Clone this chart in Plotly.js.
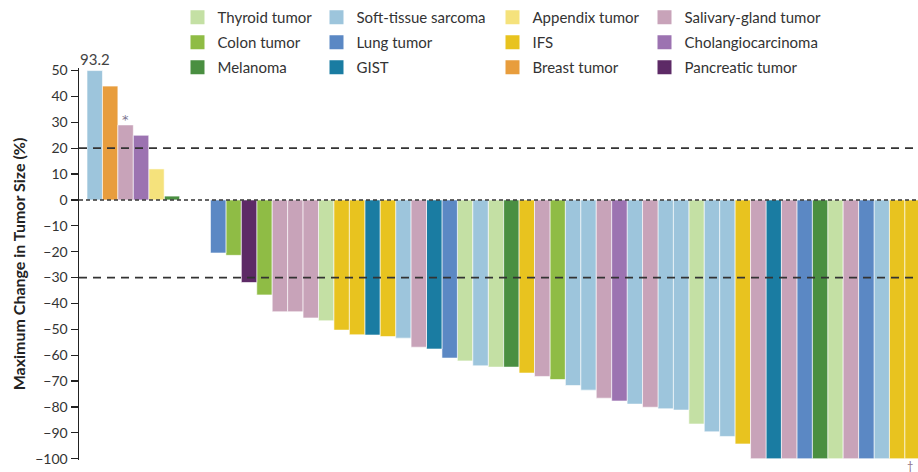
<!DOCTYPE html>
<html>
<head>
<meta charset="utf-8">
<script src="https://cdn.plot.ly/plotly-3.0.1.min.js"></script>
<style>
  html, body { margin: 0; padding: 0; background: #fff; }
  #chart { width: 918px; height: 472px; }
</style>
</head>
<body>
<div id="chart"></div>
<script>
// Tumor types (legend order by column) and colours
const tumorTypes = [
  'Thyroid tumor', 'Colon tumor', 'Melanoma',
  'Soft-tissue sarcoma', 'Lung tumor', 'GIST',
  'Appendix tumor', 'IFS', 'Breast tumor',
  'Salivary-gland tumor', 'Cholangiocarcinoma', 'Pancreatic tumor'
];
const tumorColors = [
  '#c4e0a4', '#8fbc45', '#4a8f41',
  '#9dc5dc', '#5b88c4', '#1a7ca2',
  '#f5e27c', '#e8c31f', '#e89d3d',
  '#c8a3b9', '#9c73b1', '#5d2a66'
];
const legendColumn = [
  'legend', 'legend', 'legend',
  'legend2', 'legend2', 'legend2',
  'legend3', 'legend3', 'legend3',
  'legend4', 'legend4', 'legend4'
];

// Per-patient maximum change in tumour size (%), in waterfall order
const changeValues = [
  93.2, 44, 29, 25, 12, 1.5, 0, 0,
  -20.5, -21.4, -31.9, -36.7, -43.2, -43.2, -45.6, -46.7,
  -50.3, -52.1, -52.2, -52.8, -53.4, -56.9, -57.6, -61.1,
  -62.2, -64.1, -64.6, -64.6, -66.9, -68.2, -69.4, -71.7,
  -73.5, -76.6, -77.7, -78.9, -80.1, -80.7, -81.2, -86.6,
  -89.6, -91.4, -94.3, -100, -100, -100, -100, -100,
  -100, -100, -100, -100, -100, -100
];
const patientTypes = [
  'Soft-tissue sarcoma', 'Breast tumor', 'Salivary-gland tumor', 'Cholangiocarcinoma',
  'Appendix tumor', 'Melanoma', 'Thyroid tumor', 'Thyroid tumor',
  'Lung tumor', 'Colon tumor', 'Pancreatic tumor', 'Colon tumor',
  'Salivary-gland tumor', 'Salivary-gland tumor', 'Salivary-gland tumor', 'Thyroid tumor',
  'IFS', 'IFS', 'GIST', 'IFS', 'Soft-tissue sarcoma', 'Salivary-gland tumor', 'GIST', 'Lung tumor',
  'Thyroid tumor', 'Soft-tissue sarcoma', 'Thyroid tumor', 'Melanoma', 'IFS',
  'Salivary-gland tumor', 'Colon tumor', 'Soft-tissue sarcoma',
  'Soft-tissue sarcoma', 'Salivary-gland tumor', 'Cholangiocarcinoma', 'Soft-tissue sarcoma',
  'Salivary-gland tumor', 'Soft-tissue sarcoma', 'Soft-tissue sarcoma', 'Thyroid tumor',
  'Soft-tissue sarcoma', 'Soft-tissue sarcoma', 'IFS', 'Salivary-gland tumor',
  'GIST', 'Salivary-gland tumor', 'Lung tumor', 'Melanoma',
  'Thyroid tumor', 'Salivary-gland tumor', 'Lung tumor', 'Soft-tissue sarcoma',
  'IFS', 'IFS'
];
const yTickValues = [-100, -90, -80, -70, -60, -50, -40, -30, -20, -10, 0, 10, 20, 30, 40, 50];
const thresholdLines = [20, -30];
const axisTop = 50;

const FONT = 'Lato, "Open Sans", sans-serif';
const traces = [];

// Data bars, one trace per tumour type
tumorTypes.forEach((t, k) => {
  const xs = [], ys = [];
  patientTypes.forEach((p, i) => {
    if (p === t) { xs.push(i); ys.push(Math.min(changeValues[i], axisTop)); }
  });
  traces.push({
    type: 'bar', x: xs, y: ys, name: t, showlegend: false,
    marker: { color: tumorColors[k], line: { color: 'rgba(255,255,255,0.75)', width: 0.8 } },
    width: 1, hoverinfo: 'skip'
  });
});
// Legend entries
tumorTypes.forEach((t, k) => {
  traces.push({
    type: 'bar', x: [null], y: [null], name: t, legend: legendColumn[k],
    legendgroup: t,
    marker: { color: tumorColors[k], line: { color: tumorColors[k], width: 2 } },
    hoverinfo: 'skip'
  });
});

const shapes = [
  { type: 'line', xref: 'paper', yref: 'y', x0: 0, x1: 1, y0: 0, y1: 0,
    line: { color: '#333', width: 1.5, dash: '4px,3px' }, layer: 'above' }
];
thresholdLines.forEach(v => shapes.push({
  type: 'line', xref: 'paper', yref: 'y', x0: 0, x1: 1, y0: v, y1: v,
  line: { color: '#333', width: 1.8, dash: '8px,6px' }, layer: 'above'
}));

const PLOT_L = 79, PLOT_W = 839, PLOT_B = 460, PLOT_H = 392;
const px2x = p => (p - PLOT_L) / PLOT_W;
const py2y = p => (PLOT_B - p) / PLOT_H;

const legendBase = {
  xref: 'paper', yref: 'paper', yanchor: 'top', xanchor: 'left',
  orientation: 'v', bgcolor: 'rgba(0,0,0,0)', borderwidth: 0,
  font: { family: FONT, size: 15, color: '#333' }, tracegroupgap: 2.5,
  y: py2y(1)
};

const layout = {
  width: 918, height: 472,
  margin: { l: 79, r: 0, t: 68, b: 12 },
  paper_bgcolor: '#fff', plot_bgcolor: '#fff',
  barmode: 'overlay', bargap: 0,
  font: { family: FONT, color: '#333' },
  xaxis: {
    range: [-1.02, 53.35], showticklabels: false, ticks: '', showgrid: false,
    zeroline: false, showline: false, fixedrange: true
  },
  yaxis: {
    range: [-100.5, 51], tickvals: yTickValues, ticks: 'outside', ticklen: 7,
    tickwidth: 1.2, tickcolor: '#222', showline: true, linecolor: '#222', linewidth: 1.5,
    showgrid: false, zeroline: false, tickfont: { family: FONT, size: 14, color: '#333' },
    title: { text: '<b>Maximum Change in Tumor Size (%)</b>', standoff: 5,
      font: { family: FONT, size: 16, color: '#222' } },
    fixedrange: true
  },
  legend: Object.assign({}, legendBase, { x: px2x(177.5) }),
  legend2: Object.assign({}, legendBase, { x: px2x(316.5) }),
  legend3: Object.assign({}, legendBase, { x: px2x(492.5) }),
  legend4: Object.assign({}, legendBase, { x: px2x(644.5) }),
  shapes: shapes,
  annotations: [
    { x: 0, y: axisTop, xref: 'x', yref: 'y', text: String(changeValues[0]), showarrow: false,
      yanchor: 'bottom', yshift: 1, font: { family: FONT, size: 15, color: '#444' } },
    { x: 2, y: changeValues[2], xref: 'x', yref: 'y', text: '*', showarrow: false,
      yanchor: 'middle', yshift: 5, font: { family: 'DejaVu Sans, sans-serif', size: 13, color: '#7d7690' } },
    { x: 53, y: -100, xref: 'x', yref: 'y', text: '†', showarrow: false,
      yanchor: 'top', xshift: -3, yshift: 2, font: { family: FONT, size: 11, color: '#8a6a80' } }
  ]
};

Plotly.newPlot('chart', traces, layout, { displayModeBar: false, staticPlot: true });
</script>
</body>
</html>
